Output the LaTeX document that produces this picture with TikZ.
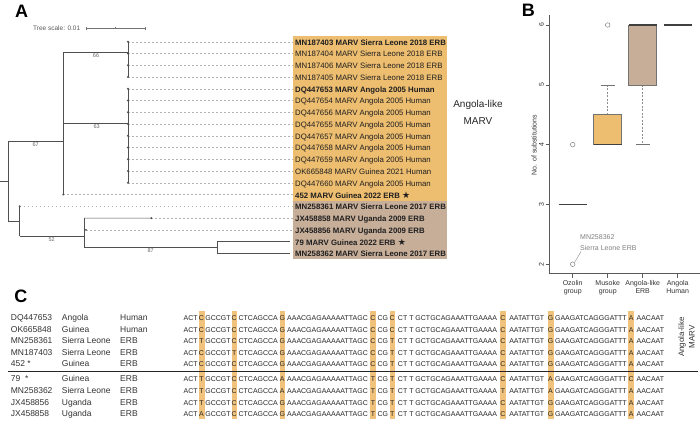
\documentclass[tikz,border=0pt]{standalone}
\usepackage{fontspec}
\setmainfont{Liberation Sans}
\newfontfamily\symfont{DejaVu Sans}
\definecolor{orA}{HTML}{EDBD70}
\definecolor{tanA}{HTML}{C7AE99}
\definecolor{hl}{HTML}{F0C27B}
\definecolor{treeC}{HTML}{505050}
\definecolor{axC}{HTML}{5A5A5A}
\begin{document}
\begin{tikzpicture}[x=1pt,y=-1pt,
  panel/.style={inner sep=0pt, font=\fontsize{18}{20}\selectfont\bfseries},
  seq/.style={inner sep=0pt, text height=1.6ex, text depth=0.3ex, font=\fontsize{7}{8}\selectfont, text=black!85},
  idt/.style={anchor=west, inner sep=0pt, text height=1.6ex, text depth=0.3ex, font=\fontsize{8.5}{10}\selectfont, text=black!80},
  tl/.style={anchor=west, inner sep=0pt, text height=1.6ex, text depth=0.3ex, font=\fontsize{7.8}{9}\selectfont, text=black!88},
  br/.style={draw=treeC, line width=0.6pt},
  lead/.style={draw=black!30, line width=0.4pt, dash pattern=on 1.5pt off 2.5pt},
  bs/.style={inner sep=0pt, font=\fontsize{5.5}{6}\selectfont, text=black!60},
  tk/.style={inner sep=0pt, font=\fontsize{7}{8}\selectfont, text=black!80},
  ax/.style={draw=axC, line width=0.5pt},
  med/.style={draw=black!75, line width=1.5pt},
  wh/.style={draw=black!45, line width=0.5pt, dash pattern=on 2pt off 1.5pt},
  capline/.style={draw=black!55, line width=0.5pt},
  outl/.style={draw=black!50, line width=0.5pt},
  bx/.style={draw=black!55, line width=0.5pt}]
\useasboundingbox (0,0) rectangle (700,423);

% ---------------- Panel A ----------------
\node[panel] (pA) at (21.7,11.7) {A};
\node[inner sep=0pt, anchor=west, font=\fontsize{6.5}{7}\selectfont, text=black!65] (tsc) at (33,28) {Tree scale: 0.01};
\coordinate (sb1) at (86,28); \coordinate (sb2) at (145.7,28); \coordinate (sbm) at (115.7,28);
\draw[draw=black!55, line width=0.5pt] (sb1) -- (sb2);
\draw[draw=black!55, line width=0.5pt] ([yshift=-1.5pt]sb1) -- ([yshift=1.5pt]sb1);
\draw[draw=black!55, line width=0.5pt] ([yshift=-1.5pt]sb2) -- ([yshift=1.5pt]sb2);
\draw[draw=black!55, line width=0.5pt] ([yshift=-1pt]sbm) -- ([yshift=1pt]sbm);

% label backgrounds
\fill[orA] (293,35.8) rectangle (447,200.5);
\fill[tanA] (293,200.5) rectangle (447,259.3);

% leaders and tips
\foreach \i/\x in {0/128,1/128,2/128,3/128,4/128,5/128,6/128,7/128,8/128,9/128,10/128,11/128,12/128,13/63.3,14/19.7,15/151.3,16/86}{
  \pgfmathsetmacro\ry{41.7+11.76*\i}
  \coordinate (tip\i) at (\x,\ry);
  \coordinate (box\i) at (293,\ry);
  \draw[lead] (tip\i) -- (box\i);
  \fill[treeC] (tip\i) circle (1.1pt);
}
\coordinate (tip17) at (290,241.62);
\coordinate (tip18) at (290,253.38);

% tree branches
\coordinate (a1) at (63.3,52.3); \coordinate (a2) at (128,52.3);
\coordinate (b1) at (63.3,123.3); \coordinate (b2) at (128,123.3);
\coordinate (c1) at (63.3,141); \coordinate (c0) at (8.3,141);
\coordinate (rt) at (0,181); \coordinate (rt2) at (8.3,181);
\coordinate (d0) at (8.3,221); \coordinate (d1) at (19.7,221);
\coordinate (e1) at (19.7,236); \coordinate (e2) at (84.3,236);
\coordinate (f1) at (84.3,218.1); \coordinate (f2) at (84.3,247.3);
\coordinate (f3) at (84.3,229.86);
\coordinate (g1) at (217.3,247.3); \coordinate (g2) at (217.3,241.62); \coordinate (g3) at (217.3,253.38);
\draw[br] (tip0) -- (tip3);
\draw[br] (tip4) -- (tip12);
\draw[br] (a1) -- (a2);
\draw[br] (b1) -- (b2);
\draw[br] (a1) -- (tip13);
\draw[br] (c0) -- (c1);
\draw[br] (c0) -- (d0);
\draw[br] (rt) -- (rt2);
\draw[br] (d0) -- (d1);
\draw[br] (tip14) -- (e1);
\draw[br] (e1) -- (e2);
\draw[br] (f1) -- (f2);
\draw[br] (f1) -- (tip15);
\draw[br] (f3) -- (tip16);
\draw[br] (f2) -- (g1);
\draw[br] (g2) -- (g3);
\draw[br] (g2) -- (tip17);
\draw[br] (g3) -- (tip18);

\node[bs] (bs66) at (96,55.5) {66};
\node[bs] (bs63) at (96.7,126.7) {63};
\node[bs] (bs67) at (35.7,145) {67};
\node[bs] (bs52) at (51.7,239.5) {52};
\node[bs] (bs87) at (150.7,250.8) {87};

% tip labels
\foreach \i/\t/\b in {
 0/{MN187403 MARV Sierra Leone 2018 ERB}/1,
 1/{MN187404 MARV Sierra Leone 2018 ERB}/0,
 2/{MN187406 MARV Sierra Leone 2018 ERB}/0,
 3/{MN187405 MARV Sierra Leone 2018 ERB}/0,
 4/{DQ447653 MARV Angola 2005 Human}/1,
 5/{DQ447654 MARV Angola 2005 Human}/0,
 6/{DQ447656 MARV Angola 2005 Human}/0,
 7/{DQ447655 MARV Angola 2005 Human}/0,
 8/{DQ447657 MARV Angola 2005 Human}/0,
 9/{DQ447658 MARV Angola 2005 Human}/0,
 10/{DQ447659 MARV Angola 2005 Human}/0,
 11/{OK665848 MARV Guinea 2021 Human}/0,
 12/{DQ447660 MARV Angola 2005 Human}/0,
 13/{452 MARV Guinea 2022 ERB {\symfont\fontsize{9}{9}\selectfont ★}}/1,
 14/{MN258361 MARV Sierra Leone 2017 ERB}/1,
 15/{JX458858 MARV Uganda 2009 ERB}/1,
 16/{JX458856 MARV Uganda 2009 ERB}/1,
 17/{79 MARV Guinea 2022 ERB {\symfont\fontsize{9}{9}\selectfont ★}}/1,
 18/{MN258362 MARV Sierra Leone 2017 ERB}/1}{
  \pgfmathsetmacro\ry{41.7+11.76*\i}
  \node[tl] (lab\i) at (295,\ry) {\ifnum\b=1\bfseries\fi\t};
}
\node[inner sep=0pt, align=center, font=\fontsize{10}{17}\selectfont, text=black!85] (alA) at (478,112) {Angola-like\\MARV};

% ---------------- Panel B ----------------
\node[panel] (pB) at (528.3,10) {B};
\coordinate (axT) at (549.6,15.4); \coordinate (axO) at (549.6,273.5); \coordinate (axR) at (700,273.5);
\draw[ax] (axT) -- (axO) -- (axR);
\foreach \v/\yy in {6/25,5/84.8,4/144.6,3/204.4,2/264.2}{
  \coordinate (yt\v) at (549.6,\yy);
  \draw[ax] (yt\v) -- ++(-4,0);
  \node[tk, rotate=90] (ytl\v) at (541.5,\yy) {\v};
}
\node[tk, rotate=90] (ylab) at (534,145) {No. of substitutions};
\foreach \k/\xx/\lab in {1/572.7/{Ozolin\\group},2/607.7/{Musoke\\group},3/642.7/{Angola-like\\ERB},4/677.7/{Angola\\Human}}{
  \coordinate (xt\k) at (\xx,273.5);
  \draw[ax] (xt\k) -- ++(0,4);
  \node[tk, align=center, font=\fontsize{7}{7.8}\selectfont, anchor=north] (xtl\k) at (\xx,280) {\lab};
}
% Ozolin
\draw[med] (558.7,204.4) -- (586.7,204.4);
\node[outl, circle, inner sep=0pt, minimum size=4.6pt] (o1) at (572.7,144.6) {};
\node[outl, circle, inner sep=0pt, minimum size=4.6pt] (o2) at (572.7,264.2) {};
\node[inner sep=0pt, anchor=west, align=left, font=\fontsize{7}{11.6}\selectfont, text=black!50] (ann) at (580,242.5) {MN258362\\Sierra Leone ERB};
\draw[draw=black!45, line width=0.4pt] (o2.north east) -- (581,251.5);
% Musoke
\draw[wh] (607.7,114.7) -- (607.7,84.8);
\draw[capline] (600.7,84.8) -- (614.7,84.8);
\filldraw[bx, fill=orA] (593.7,114.7) rectangle (621.7,144.6);
\draw[med] (593.7,144.6) -- (621.7,144.6);
\node[outl, circle, inner sep=0pt, minimum size=4.6pt] (o3) at (607.7,25) {};
% Angola-like ERB
\draw[wh] (642.7,84.8) -- (642.7,144.6);
\draw[capline] (635.7,144.6) -- (649.7,144.6);
\filldraw[bx, fill=tanA] (628.7,25) rectangle (656.7,84.8);
\draw[med] (628.7,25) -- (656.7,25);
% Angola Human
\draw[med] (663.7,25) -- (691.7,25);

% ---------------- Panel C ----------------
\node[panel] (pC) at (20.8,296.7) {C};
\foreach \xa/\xb in {198.5/204.5,231.5/237,279.5/285,370/376,389.5/395,500/506,547.5/553.5,628.3/634}{
  \fill[hl] (\xa,311) rectangle (\xb,419.3);
}
\coordinate (sepL) at (8,370.8); \coordinate (sepR) at (698,370.8);
\draw[draw=black!85, line width=0.6pt] (sepL) -- (sepR);
\foreach \yy/\id/\co/\ho/\la/\lb/\lc/\ld/\le/\lf/\lg/\lh [count=\k] in {
 317/DQ447653/Angola/Human/C/C/G/C/C/C/G/A,
 328.6/OK665848/Guinea/Human/C/C/G/C/C/C/G/A,
 340.2/MN258361/Sierra Leone/ERB/T/C/G/C/T/C/G/A,
 351.8/MN187403/Sierra Leone/ERB/C/T/G/C/T/C/G/A,
 363.4/{452 *}/Guinea/ERB/C/C/G/C/T/C/G/A,
 378.4/{79 \ *}/Guinea/ERB/T/C/A/T/T/C/A/C,
 390/MN258362/Sierra Leone/ERB/T/C/A/T/T/T/A/A,
 401.6/JX458856/Uganda/ERB/T/C/G/T/T/C/G/A,
 413.2/JX458858/Uganda/ERB/A/C/G/T/T/C/G/A}{
  \node[idt] (id\k) at (10.7,\yy) {\id};
  \node[idt] (co\k) at (61.7,\yy) {\co};
  \node[idt] (ho\k) at (120,\yy) {\ho};
  \node[seq] (s0-\k) at (190.6,\yy) {ACT};
  \node[seq] (v1-\k) at (201.5,\yy) {\la};
  \node[seq] (s1-\k) at (218,\yy) {GCCGT};
  \node[seq] (v2-\k) at (234.25,\yy) {\lb};
  \node[seq] (s2-\k) at (258.25,\yy) {CTCAGCCA};
  \node[seq] (v3-\k) at (282.25,\yy) {\lc};
  \node[seq] (s3-\k) at (327.5,\yy) {AAACGAGAAAAATTAGC};
  \node[seq] (v4-\k) at (373,\yy) {\ld};
  \node[seq] (s4-\k) at (382.75,\yy) {CG};
  \node[seq] (v5-\k) at (392.25,\yy) {\le};
  \node[seq] (s5-\k) at (447.5,\yy) {CT T GCTGCAGAAATTGAAAA};
  \node[seq] (v6-\k) at (503,\yy) {\lf};
  \node[seq] (s6-\k) at (526.75,\yy) {AATATTGT};
  \node[seq] (v7-\k) at (550.5,\yy) {\lg};
  \node[seq] (s7-\k) at (590.9,\yy) {GAAGATCAGGGATTT};
  \node[seq] (v8-\k) at (631.15,\yy) {\lh};
  \node[seq] (s8-\k) at (650.35,\yy) {AACAAT};
}
\node[inner sep=0pt, rotate=90, align=center, font=\fontsize{8}{10.5}\selectfont, text=black!80] (alC) at (686.5,337) {Angola-like\\MARV};
\end{tikzpicture}
\end{document}
